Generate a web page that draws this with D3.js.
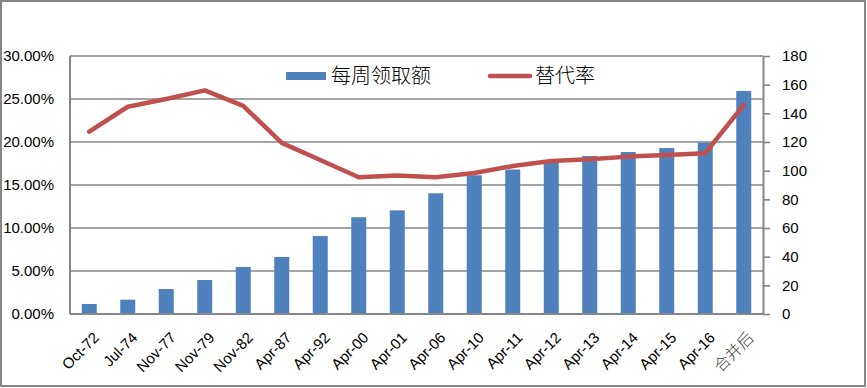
<!DOCTYPE html>
<html>
<head>
<meta charset="utf-8">
<script src="https://cdn.jsdelivr.net/npm/d3@7"></script>
<style>
  body { margin: 0; background: #fff; }
  text { font-family: "Liberation Sans", Arial, sans-serif; }
</style>
</head>
<body>
<script>
'use strict';

var width = 867,
    height = 388;

// categories and series
var categories = ["Oct-72", "Jul-74", "Nov-77", "Nov-79", "Nov-82", "Apr-87", "Apr-92",
    "Apr-00", "Apr-01", "Apr-06", "Apr-10", "Apr-11", "Apr-12", "Apr-13", "Apr-14",
    "Apr-15", "Apr-16", "合并后"];
var weeklyAmount = [7, 10, 17.4, 23.7, 32.8, 39.8, 54.4, 67.5, 72.3, 84.2, 96.8, 100.8,
    106.8, 110.2, 113, 115.8, 119.5, 155.6];
var replaceRate = [0.212, 0.241, 0.250, 0.260, 0.242, 0.199, 0.179, 0.159, 0.161, 0.159,
    0.164, 0.172, 0.178, 0.180, 0.183, 0.185, 0.187, 0.243];
var leftTicks = [0, 0.05, 0.10, 0.15, 0.20, 0.25, 0.30];
var rightTicks = [0, 20, 40, 60, 80, 100, 120, 140, 160, 180];
var seriesNames = ["每周领取额", "替代率"];

var plot = {left: 70, right: 763, top: 56, bottom: 314};
var grey = "#868686";
var latin = "'Liberation Sans', Arial, sans-serif";
var cjk = "'Noto Sans CJK SC', sans-serif";

var svg = d3.select("body").append("svg")
    .attr("width", width)
    .attr("height", height);

// outer frame
svg.append("rect")
    .attr("x", 1).attr("y", 1)
    .attr("width", width - 3).attr("height", height - 3)
    .attr("fill", "none")
    .attr("stroke", grey)
    .attr("stroke-width", 2);

var x = d3.scaleBand()
    .domain(categories)
    .range([plot.left, plot.right])
    .paddingInner(0.61)
    .paddingOuter(0.305);

var xc = d3.scalePoint()
    .domain(categories)
    .range([plot.left, plot.right])
    .padding(0.5);

var yLeft = d3.scaleLinear().domain([0, 0.30]).range([plot.bottom, plot.top]);
var yRight = d3.scaleLinear().domain([0, 180]).range([plot.bottom, plot.top]);

// gridlines
svg.append("g")
    .selectAll("line")
    .data(leftTicks.slice(1))
    .enter().append("line")
        .attr("x1", plot.left)
        .attr("x2", plot.right)
        .attr("y1", function(d) { return yLeft(d); })
        .attr("y2", function(d) { return yLeft(d); })
        .attr("stroke", grey)
        .attr("stroke-width", 1.6);

// left axis labels
var leftAxis = svg.append("g")
    .attr("transform", "translate(" + plot.left + ",0)")
    .call(d3.axisLeft(yLeft).tickValues(leftTicks).tickSize(0).tickPadding(16)
        .tickFormat(d3.format(".2%")));
leftAxis.select(".domain").remove();
leftAxis.selectAll("text")
    .style("font-size", "15px")
    .style("font-family", latin)
    .attr("fill", "#000");

// right axis
var rightAxis = svg.append("g")
    .attr("transform", "translate(" + plot.right + ",0)")
    .call(d3.axisRight(yRight).tickValues(rightTicks).tickSizeInner(7).tickSizeOuter(0).tickPadding(12));
rightAxis.select(".domain").attr("stroke", grey).attr("stroke-width", 2);
rightAxis.selectAll(".tick line").attr("stroke", grey).attr("stroke-width", 1.6);
rightAxis.selectAll("text")
    .style("font-size", "15px")
    .style("font-family", latin)
    .attr("fill", "#000");

// bars
svg.append("g")
    .selectAll("rect")
    .data(weeklyAmount)
    .enter().append("rect")
        .attr("x", function(d, i) { return x(categories[i]); })
        .attr("width", x.bandwidth())
        .attr("y", function(d) { return yRight(d); })
        .attr("height", function(d) { return yRight(0) - yRight(d); })
        .attr("fill", "#4F81BD");

// left axis line and baseline
svg.append("line")
    .attr("x1", plot.left).attr("x2", plot.left)
    .attr("y1", plot.top).attr("y2", plot.bottom)
    .attr("stroke", grey).attr("stroke-width", 2);
svg.append("line")
    .attr("x1", plot.left).attr("x2", plot.right)
    .attr("y1", plot.bottom).attr("y2", plot.bottom)
    .attr("stroke", grey).attr("stroke-width", 2);

// replacement rate line
var line = d3.line()
    .x(function(d, i) { return xc(categories[i]); })
    .y(function(d) { return yLeft(d); });

svg.append("path")
    .datum(replaceRate)
    .attr("d", line)
    .attr("fill", "none")
    .attr("stroke", "#C0504D")
    .attr("stroke-width", 4.5)
    .attr("stroke-linejoin", "round")
    .attr("stroke-linecap", "round");

// x labels, rotated
svg.append("g")
    .selectAll("text")
    .data(categories)
    .enter().append("text")
        .attr("transform", function(d) {
            return "translate(" + (xc(d) + 7) + "," + (plot.bottom + 21) + ") rotate(-45)";
        })
        .style("text-anchor", "end")
        .style("font-size", function(d) { return d === "合并后" ? "16px" : "15px"; })
        .style("font-family", function(d) { return d === "合并后" ? cjk : latin; })
        .style("font-weight", function(d) { return d === "合并后" ? 300 : 400; })
        .attr("fill", function(d) { return d === "合并后" ? "#404040" : "#000"; })
        .attr("dy", "0.35em")
        .text(function(d) { return d; });

// legend
var legend = svg.append("g");
legend.append("rect")
    .attr("x", 286).attr("y", 72)
    .attr("width", 40).attr("height", 8)
    .attr("fill", "#4F81BD");
legend.append("text")
    .attr("x", 331).attr("y", 76)
    .attr("dy", "0.35em")
    .style("font-family", cjk)
    .style("font-size", "20px")
    .style("font-weight", 300)
    .attr("fill", "#000")
    .text(seriesNames[0]);
legend.append("line")
    .attr("x1", 490).attr("x2", 530)
    .attr("y1", 76).attr("y2", 76)
    .attr("stroke", "#C0504D")
    .attr("stroke-width", 4.5)
    .attr("stroke-linecap", "round");
legend.append("text")
    .attr("x", 535).attr("y", 76)
    .attr("dy", "0.35em")
    .style("font-family", cjk)
    .style("font-size", "20px")
    .style("font-weight", 300)
    .attr("fill", "#000")
    .text(seriesNames[1]);
</script>
</body>
</html>
